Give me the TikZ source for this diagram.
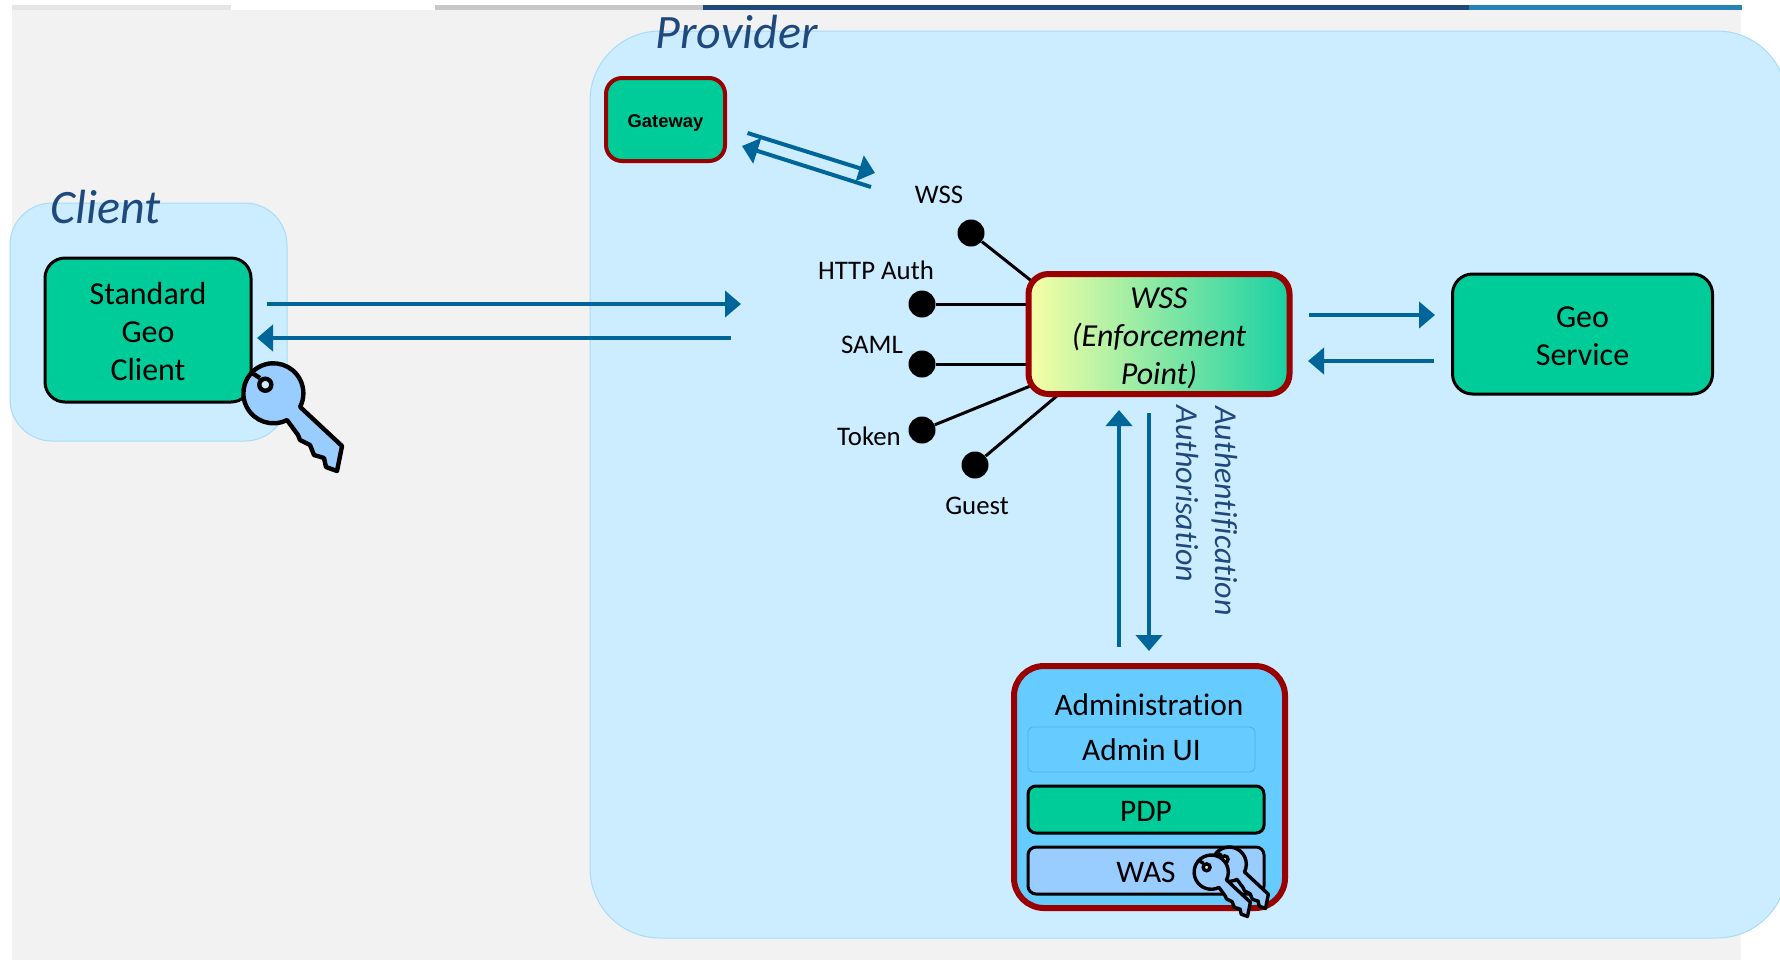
\documentclass[tikz,border=0pt]{standalone}
\usepackage{fontspec}
\setmainfont[Ligatures=NoCommon]{Carlito}
\newfontfamily\gatewayfont{Liberation Sans}
\usetikzlibrary{arrows.meta,backgrounds}
\definecolor{panelblue}{HTML}{CCECFF}
\definecolor{panelline}{HTML}{A6DCFA}
\definecolor{greengeo}{HTML}{00CC99}
\definecolor{redline}{HTML}{990000}
\definecolor{arrowblue}{HTML}{006699}
\definecolor{titleblue}{HTML}{1F497D}
\definecolor{barblue}{HTML}{2683B8}
\definecolor{adminblue}{HTML}{66CCFF}
\definecolor{keyblue}{HTML}{99CCFF}
\newcommand{\toppad}[1]{\rule{0pt}{#1}}
\tikzset{
  panel/.style={draw=panelline,fill=panelblue,line width=.5pt},
  geobox/.style={draw=black,fill=greengeo,line width=1.5pt,rounded corners=10pt,align=center,font=\fontsize{16}{19}\selectfont},
  flow/.style={draw=arrowblue,line width=2pt,-{Triangle[length=8pt,width=13pt]}},
  wire/.style={draw=black,line width=1.5pt},
  dot/.style={circle,fill=black,minimum size=13.5pt,inner sep=0pt},
  plug/.style={font=\fontsize{13.4}{15}\selectfont,inner sep=0pt},
  title/.style={font=\fontsize{24}{28}\selectfont\itshape,text=titleblue,inner sep=0pt},
  turned/.style={font=\fontsize{16}{19}\selectfont\itshape,text=titleblue,rotate=-90,inner sep=0pt},
  admintext/.style={font=\fontsize{15.7}{19}\selectfont,inner sep=0pt},
  keyicon/.pic={
    \draw[fill=keyblue,line join=round] (14,27) arc[start angle=63,end angle=387,radius=30]
      -- (69,53) -- (64,78) -- (53,74) -- (51,65) -- (41,62) -- (37,52) -- (27,47) -- (25,42) -- cycle;
    \draw[fill=panelblue] (-7.7,-8.3) circle[radius=6];
    \draw (-21,-20) -- (-13,-15);
  }
}
\begin{document}
\begin{tikzpicture}[x=.5pt,y=-.5pt]
\clip (0,0) rectangle (1780,960);
\useasboundingbox (0,0) rectangle (1780,960);
\begin{scope}[on background layer]
\fill[white] (0,0) rectangle (1780,960);
\fill[black!5] (12,10) rectangle (1741,960);
\fill[black!10] (12,5) rectangle (231,10);
\fill[black!22] (435,5) rectangle (703,10);
\fill[titleblue] (703,5) rectangle (1469,10);
\fill[barblue] (1469,5) rectangle (1742,10);
\draw[panel,rounded corners=21pt] (10,203) rectangle (287,441);
\draw[panel,rounded corners=35pt] (590,31) rectangle (1787,938);
\end{scope}
% titles
\node (clienttitle) [title,anchor=base west] at (50,223) {Client};
\node (providertitle) [title,anchor=base west] at (655,48) {Provider};
% client side
\node (client) [geobox,minimum width=103pt,minimum height=72pt] at (148,330) {\toppad{12.2pt}Standard\\Geo\\Client};
\pic[line width=2.2pt] at (273,393) {keyicon};
% gateway
\node (gateway) [draw=redline,fill=greengeo,line width=2pt,rounded corners=8pt,minimum width=59.5pt,minimum height=41.5pt,inner sep=0pt,text height=7.5pt,text depth=0pt,font=\gatewayfont\bfseries\fontsize{9.2}{11}\selectfont] at (665.5,119.5) {Gateway};
% enforcement point
\node (wss) [draw=redline,line width=3pt,rounded corners=10pt,left color=green!8!yellow!35!white,middle color=green!45!yellow!28!white,right color=greengeo!90!white,minimum width=130.5pt,minimum height=60pt,inner sep=0pt,outer sep=0pt,align=center,font=\fontsize{16}{19}\selectfont\itshape] at (1159,334) {\toppad{14.5pt}WSS\\(Enforcement\\Point)};
% geo service
\node (geo) [geobox,minimum width=130pt,minimum height=60pt] at (1582.5,334) {\toppad{12.4pt}Geo\\Service};
% authentication dots
\node (wssdot) [dot] at (971,233) {};
\node (httpdot) [dot] at (922,304) {};
\node (samldot) [dot] at (922,364) {};
\node (tokendot) [dot] at (922,430) {};
\node (guestdot) [dot] at (975,465) {};
\node (wsslabel) [plug] at (939,195) {WSS};
\node (httplabel) [plug] at (876,270) {HTTP Auth};
\node (samllabel) [plug] at (872,345) {SAML};
\node (tokenlabel) [plug] at (869,436) {Token};
\node (guestlabel) [plug] at (977,506) {Guest};
\begin{scope}[on background layer]
\draw[wire,shorten >=-5pt] (wssdot) -- (wss.157);
\draw[wire] (httpdot) -- (httpdot -| wss.west);
\draw[wire] (samldot) -- (samldot -| wss.west);
\draw[wire,shorten >=-5pt] (tokendot) -- (wss.202);
\draw[wire,shorten >=-5pt] (guestdot) -- (wss.211);
\end{scope}
% administration
\node (admin) [draw=redline,fill=adminblue,line width=3pt,rounded corners=15pt,minimum width=135.5pt,minimum height=121pt,inner sep=0pt,outer sep=0pt] at (1149.5,787) {};
\node (admintitle) [admintext] at (1149,705) {Administration};
\node (adminui) [draw=adminblue!85!black,line width=.4pt,rounded corners=2.5pt,minimum width=113.5pt,minimum height=22.5pt,inner sep=0pt,admintext] at (1141.5,749.5) {Admin UI};
\node (pdp) [draw=black,fill=greengeo,line width=1.5pt,rounded corners=4pt,minimum width=118pt,minimum height=23.5pt,inner sep=0pt,text height=12pt,text depth=0pt,admintext] at (1146,809.5) {PDP};
\node (was) [draw=black,fill=keyblue,line width=1.5pt,rounded corners=4pt,minimum width=118pt,minimum height=23.5pt,inner sep=0pt,text height=12pt,text depth=0pt,admintext] at (1146,870.5) {WAS};
\pic[scale=.57,line width=1.7pt] at (1229,864) {keyicon};
\pic[scale=.57,line width=1.7pt] at (1211,872) {keyicon};
% arrows
\coordinate (clientout) at (267,304);
\coordinate (clientouttip) at (741,304);
\coordinate (clientin) at (731,338);
\coordinate (clientintip) at (257,338);
\draw[flow] (clientout) -- (clientouttip);
\draw[flow] (clientin) -- (clientintip);
\coordinate (gatewayout) at (747.5,133);
\coordinate (gatewayouttip) at (875,173);
\coordinate (gatewayin) at (871,187);
\coordinate (gatewayintip) at (742,146);
\draw[flow] (gatewayout) -- (gatewayouttip);
\draw[flow] (gatewayin) -- (gatewayintip);
\coordinate (geoout) at (1309,315);
\coordinate (geoouttip) at (1435,315);
\coordinate (geoin) at (1434,361);
\coordinate (geointip) at (1308,361);
\draw[flow] (geoout) -- (geoouttip);
\draw[flow] (geoin) -- (geointip);
\coordinate (adminup) at (1119,647);
\coordinate (adminuptip) at (1119,410);
\coordinate (admindown) at (1149,413);
\coordinate (admindowntip) at (1149,651);
\draw[flow] (adminup) -- (adminuptip);
\draw[flow] (admindown) -- (admindowntip);
\node (authn) [turned] at (1225,511) {Authentification};
\node (authz) [turned] at (1187,494) {Authorisation};
\end{tikzpicture}
\end{document}
